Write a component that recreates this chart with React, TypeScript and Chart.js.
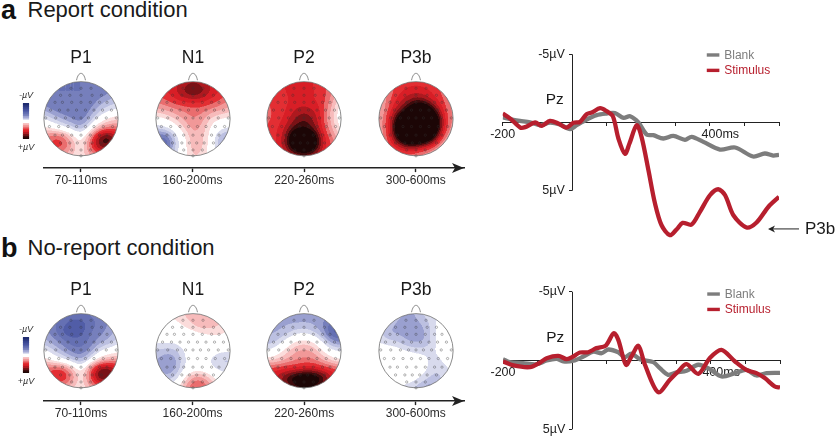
import React, { useEffect, useRef } from "react";
import { Chart, registerables } from "chart.js";
Chart.register(...registerables);

const FONT = "'Liberation Sans', Helvetica, Arial, sans-serif";
const GREY = "#7d7d7d";
const RED = "#b71f2e";
const INK = "#222222";

// ---------- ERP traces (ms, microvolt; positive is drawn downward) ----------
const reportBlankT = [-200,-169,-150,-121,-92,-63,-34,-5,14,43,72,101,125,150,169,193,217,236,265,294,328,347,381,429,473,525,559,583,600];
const reportBlankV = [-0.37,-0.2,-0.12,-0.02,0.2,0,0.15,0.49,0.2,-0.22,-0.54,-0.66,-0.7,-0.34,-0.46,0,0.88,0.93,1.17,0.98,1.27,1.05,1.42,1.98,1.83,2.49,2.27,2.42,2.37];
const reportStimT = [-200,-178,-149,-135,-106,-87,-63,-39,-16,5,24,43,58,82,101,119,135,154,167,188,202,222,241,260,284,304,321,347,371,400,424,444,468,506,535,569,600];
const reportStimV = [-0.66,-0.29,0.37,0.34,0,0.24,-0.12,0.07,0.37,0.02,-0.05,-0.61,-0.73,-1.05,-0.83,-0.46,1.17,2.3,1.54,0.2,1.05,3.5,5.94,7.53,8.26,7.82,7.36,7.48,6.55,5.33,4.89,5.33,6.8,7.7,7.33,6.19,5.45];
const noReportBlankT = [-200,-181,-142,-103,-74,-45,-26,3,32,61,85,104,133,152,171,195,234,253,277,301,330,364,397,431,470,503,532,561,600];
const noReportBlankV = [-0.1,0.12,0.19,0.27,0,-0.12,0.07,0.02,-0.29,-0.65,-0.53,-0.8,-0.6,-0.24,-0.5,-0.1,0.12,0.56,1.04,0.87,0.75,0.31,0.63,1.16,0.92,0.68,1.09,0.92,0.9];
const noReportStimT = [-200,-170,-122,-93,-74,-40,-16,3,22,46,70,97,120,133,155,171,191,210,248,282,306,330,364,397,431,470,503,532,556,585,600];
const noReportStimV = [0.07,0.36,0.48,0.15,-0.17,-0.34,-0.1,-0.29,-0.58,-0.6,-0.9,-1.09,-1.99,-1.5,0.31,-0.29,-1.07,0.31,2.3,1.4,0.8,0.27,0.97,-0.17,-0.77,0.07,0.68,0.92,1.28,1.89,1.96];

const xTickValues = [-200,-100,0,100,200,300,400,500,600];
const xTickLabels = ["-200","","","","","","      400ms","",""];
const yTickValues = [-5,5];
const yTickLabels = ["-5\u00b5V  ","5\u00b5V  "];
const seriesNames = ["Blank","Stimulus"];

// ---------- Topographies: scalp values on a 9x9 grid, front row first ----------
const p1Report = [
[-.5,-.5,-.5,-.5,-.5,-.5,-.5,-.45,-.42],
[-.5,-.5,-.5,-.5,-.5,-.5,-.5,-.45,-.4],
[-.5,-.5,-.5,-.5,-.5,-.5,-.38,-.28,-.22],
[-.32,-.45,-.5,-.5,-.5,-.42,-.22,-.15,-.1],
[-.08,-.2,-.32,-.42,-.5,-.28,-.04,.12,.2],
[.12,.05,-.05,-.15,-.3,-.02,.3,.45,.42],
[.42,.55,.52,.22,.0,.38,.95,1.05,.7],
[.38,.55,.58,.3,.06,.5,.9,.9,.6],
[.18,.25,.28,.18,.12,.24,.36,.38,.25]];
const n1Report = [
[.56,.6,.66,.72,.78,.72,.66,.58,.54],
[.54,.6,.68,.85,.98,.88,.68,.6,.5],
[.44,.5,.58,.64,.66,.64,.58,.5,.38],
[.28,.32,.38,.42,.45,.45,.38,.32,.26],
[.03,.08,.2,.32,.42,.34,.15,.08,.05],
[-.18,-.1,-.02,.2,.34,.28,.05,-.05,-.1],
[-.5,-.6,-.2,.04,.3,.24,.02,-.32,-.42],
[-.55,-.72,-.22,.02,.28,.24,0,-.32,-.42],
[-.22,-.35,-.1,.03,.22,.16,0,-.1,-.18]];
const p2Report = [
[.55,.58,.6,.62,.66,.6,.52,.42,.3],
[.52,.58,.6,.64,.66,.6,.56,.42,.18],
[.5,.54,.58,.62,.62,.6,.56,.36,.08],
[.46,.54,.58,.7,.75,.7,.56,.24,0],
[.46,.54,.62,.8,.92,.8,.56,.22,-.02],
[.5,.58,.7,.95,1,.88,.56,.3,.04],
[.54,.58,.78,1.4,1.5,1.25,.68,.42,.16],
[.54,.58,.78,1.3,1.5,1.25,.66,.52,.32],
[.48,.52,.58,.7,.78,.7,.58,.48,.36]];
const p3bReport = [
[.3,.42,.52,.56,.56,.56,.52,.42,.3],
[.25,.42,.56,.62,.65,.62,.56,.46,.3],
[.22,.46,.62,.76,.88,.8,.62,.5,.3],
[.22,.5,.75,1,1.4,1.4,.9,.56,.34],
[.28,.56,1.05,1.6,1.8,1.8,1.35,.62,.34],
[.28,.56,1.25,1.8,1.9,1.8,1.35,.62,.3],
[.28,.5,1.05,1.6,1.6,1.45,1,.45,.2],
[.3,.45,.62,.8,.8,.65,.5,.2,.05],
[.25,.36,.42,.42,.36,.3,.15,0,-.12]];
const p1NoReport = [
[-.38,-.42,-.48,-.52,-.48,-.48,-.42,-.38,-.3],
[-.42,-.48,-.56,-.66,-.68,-.56,-.48,-.4,-.3],
[-.38,-.44,-.64,-.7,-.66,-.5,-.44,-.36,-.25],
[-.26,-.36,-.45,-.55,-.55,-.48,-.36,-.28,-.15],
[-.05,-.18,-.32,-.46,-.5,-.38,-.1,-.02,.05],
[.18,.02,-.08,-.2,-.34,-.08,.18,.3,.34],
[.46,.58,.58,.3,0,.48,.95,.95,.7],
[.4,.6,.68,.42,.08,.5,.95,.88,.56],
[.14,.24,.3,.18,.1,.24,.4,.36,.24]];
const n1NoReport = [
[.04,.08,.18,.22,.24,.3,.26,.18,.05],
[0,.02,.04,.14,.24,.36,.26,.22,.12],
[0,0,0,.02,.05,.1,.15,.15,.06],
[-.06,-.06,-.06,0,0,0,0,0,0],
[-.22,-.25,-.25,-.1,0,0,0,-.06,-.06],
[-.28,-.42,-.38,-.12,0,0,-.14,-.26,-.24],
[-.28,-.42,-.34,-.1,0,0,-.06,-.14,-.14],
[-.12,-.24,-.2,.1,.4,.4,.16,0,-.02],
[0,-.06,0,.28,.54,.54,.36,.12,0]];
const p2NoReport = [
[-.32,-.32,-.34,-.34,-.34,-.34,-.36,-.42,-.42],
[-.32,-.32,-.32,-.32,-.32,-.32,-.38,-.55,-.58],
[-.32,-.32,-.27,-.16,-.12,-.2,-.34,-.68,-.7],
[-.27,-.22,-.05,.1,.16,.1,-.1,-.38,-.42],
[-.1,-.02,.15,.3,.34,.3,.1,-.05,-.1],
[.15,.2,.3,.38,.42,.42,.3,.15,.08],
[.58,.6,.62,.62,.68,.68,.62,.58,.5],
[.62,.72,.95,1.2,1.35,1.3,1.05,.7,.55],
[.55,.6,.72,.88,.98,.92,.75,.6,.55]];
const p3bNoReport = [
[-.17,-.2,-.26,-.32,-.3,-.13,-.13,-.1,-.1],
[-.17,-.24,-.32,-.34,-.34,-.27,-.11,0,0],
[-.17,-.32,-.34,-.34,-.37,-.32,-.09,0,0],
[-.11,-.17,-.2,-.32,-.34,-.32,-.11,0,0],
[0,0,-.02,-.08,-.13,-.14,-.11,0,0],
[0,0,0,0,0,-.06,-.17,-.06,0],
[0,0,0,0,0,-.06,-.2,-.17,-.05],
[0,0,0,0,-.06,-.17,-.26,-.17,-.09],
[0,-.02,-.11,-.17,-.24,-.38,-.38,-.2,-.1]];

const componentNames = ["P1","N1","P2","P3b"];
const timeWindows = ["70-110ms","160-200ms","220-260ms","300-600ms"];

// Electrode rows on the scalp, unit circle
const electrodeRows: [number, number[]][] = [
  [.78,[-.27,0,.27]],
  [.6,[-.55,-.3,0,.3,.55]],
  [.42,[-.7,-.5,-.25,0,.25,.5,.7]],
  [.22,[-.82,-.58,-.35,-.12,.12,.35,.58,.82]],
  [.02,[-.95,-.68,-.42,-.2,0,.2,.42,.68,.95]],
  [-.2,[-.85,-.6,-.35,-.12,.12,.35,.6,.85]],
  [-.42,[-.7,-.5,-.25,0,.25,.5,.7]],
  [-.62,[-.55,-.3,-.1,.1,.3,.55]],
  [-.8,[-.25,0,.25]],
  [-.95,[0]],
];
const electrodes = electrodeRows.flatMap(([y, xs]) => xs.map((x) => ({ x, y })));

// Contour palette, one colour per 0.1 of the colour scale
const bluePalette = ["#ffffff","#d8daed","#bcc0e1","#9aa0d0","#767fbc","#6570b3","#515da7","#434f9c","#35428e","#2a367e","#1f2c70"];
const redPalette = ["#ffffff","#fbdcdb","#f7bbbb","#f19898","#ea6d6e","#e32e33","#d81e26","#ae191f","#791216","#3d0b0c","#1c0606"];

// ---------- helpers ----------
const hex = (c: string) => [1, 3, 5].map((i) => parseInt(c.slice(i, i + 2), 16));
const levelColour = (v: number) => {
  const idx = Math.min(10, Math.floor(Math.abs(v) / 0.1));
  return hex((v < 0 ? bluePalette : redPalette)[idx]);
};
const bs = (a: number, b: number, c: number, d: number, t: number) => {
  const t2 = t * t, t3 = t2 * t;
  return ((1 - t) ** 3 * a + (3 * t3 - 6 * t2 + 4) * b + (-3 * t3 + 3 * t2 + 3 * t + 1) * c + t3 * d) / 6;
};
const sampleGrid = (g: number[][], x: number, y: number) => {
  const u = Math.max(0, Math.min(7.999, (x + 1) * 4));
  const w = Math.max(0, Math.min(7.999, (1 - y) * 4));
  const i = Math.floor(u), j = Math.floor(w);
  const row = (r: number) => {
    const R = g[Math.max(0, Math.min(8, r))];
    const at = (k: number) => R[Math.max(0, Math.min(8, k))];
    return bs(at(i - 1), at(i), at(i + 1), at(i + 2), u - i);
  };
  return bs(row(j - 1), row(j), row(j + 1), row(j + 2), w - j);
};

const topoPlugin = (grid: number[][]) => ({
  id: "topo",
  beforeDatasetsDraw(chart: any) {
    const { ctx, scales: { x: sx, y: sy } } = chart;
    const cx = sx.getPixelForValue(0), cy = sy.getPixelForValue(0);
    const r = sx.getPixelForValue(1) - cx;
    const ss = 2;
    const size = Math.ceil(r * 2 * ss);
    const off = document.createElement("canvas");
    off.width = off.height = size;
    const octx = off.getContext("2d")!;
    const img = octx.createImageData(size, size);
    for (let py = 0; py < size; py++) {
      for (let px = 0; px < size; px++) {
        const ux = ((px + 0.5) / size) * 2 - 1;
        const uy = 1 - ((py + 0.5) / size) * 2;
        const c = levelColour(sampleGrid(grid, ux, uy));
        const o = (py * size + px) * 4;
        img.data[o] = c[0]; img.data[o + 1] = c[1]; img.data[o + 2] = c[2]; img.data[o + 3] = 255;
      }
    }
    octx.putImageData(img, 0, 0);
    ctx.save();
    ctx.beginPath();
    ctx.arc(cx, cy, r, 0, Math.PI * 2);
    ctx.save();
    ctx.clip();
    ctx.imageSmoothingEnabled = true;
    ctx.drawImage(off, cx - r, cy - r, r * 2, r * 2);
    ctx.restore();
    ctx.strokeStyle = "#6e6e6e";
    ctx.lineWidth = 0.8;
    ctx.stroke();
    const nx = 0.12 * r, nt = sy.getPixelForValue(1.22), nb = sy.getPixelForValue(0.985);
    ctx.beginPath();
    ctx.moveTo(cx - nx, nb);
    ctx.bezierCurveTo(cx - nx * 0.6, nt, cx + nx * 0.6, nt, cx + nx, nb);
    ctx.stroke();
    ctx.restore();
  },
});

const topoConfig = (grid: number[][], name: string) => ({
  type: "scatter",
  data: {
    datasets: [{
      label: name + " electrodes",
      data: electrodes,
      pointRadius: 1.15,
      pointBorderWidth: 0.55,
      pointBorderColor: "rgba(50,50,50,0.65)",
      pointBackgroundColor: "rgba(0,0,0,0)",
      clip: false,
    }],
  },
  options: {
    responsive: false,
    animation: false,
    events: [],
    scales: {
      x: { display: false, min: -1.17, max: 1.17 },
      y: { display: false, min: -1.17, max: 1.17 },
    },
    plugins: {
      legend: { display: false },
      tooltip: { enabled: false },
      title: {
        display: true,
        text: name,
        color: "#1a1a1a",
        font: { family: FONT, size: 17.5, weight: "normal", lineHeight: 20 / 17.5 },
        padding: { top: 0, bottom: 5 },
      },
    },
  },
  plugins: [topoPlugin(grid)],
});

const arrowPlugin = {
  id: "arrowHead",
  afterDraw(chart: any) {
    const { ctx, chartArea: a, scales: { y } } = chart;
    const yy = y.getPixelForValue(0);
    const tip = a.right;
    ctx.save();
    ctx.fillStyle = INK;
    ctx.beginPath();
    ctx.moveTo(tip, yy);
    ctx.lineTo(tip - 12, yy - 5);
    ctx.lineTo(tip - 9, yy);
    ctx.lineTo(tip - 12, yy + 5);
    ctx.closePath();
    ctx.fill();
    ctx.restore();
  },
};

const flatX = (s: any) => { s.height = 0; s.paddingLeft = 0; s.paddingRight = 0; s.paddingTop = 0; s.paddingBottom = 0; };
const flatY = (s: any) => { s.width = 0; s.paddingLeft = 0; s.paddingRight = 0; s.paddingTop = 0; s.paddingBottom = 0; };

const timelineConfig = () => ({
  type: "scatter",
  data: { datasets: [] as any[] },
  options: {
    responsive: false,
    animation: false,
    events: [],
    layout: { padding: { left: 43.3, right: 16, top: 0, bottom: 14 } },
    scales: {
      x: {
        type: "linear",
        min: -0.3376,
        max: 3.432,
        position: { y: 0 },
        afterFit: flatX,
        afterBuildTicks: (s: any) => { s.ticks = timeWindows.map((_, i) => ({ value: i })); },
        border: { display: true, color: INK, width: 1.6 },
        grid: { drawOnChartArea: false, drawTicks: true, tickLength: 3.5, tickColor: INK, tickWidth: 1.4 },
        ticks: {
          autoSkip: false, maxRotation: 0, padding: 2, color: "#2b2b2b",
          font: { family: FONT, size: 12 },
          callback: (v: number) => timeWindows[v],
        },
      },
      y: { display: false, min: -1, max: 1 },
    },
    plugins: { legend: { display: false }, tooltip: { enabled: false } },
  },
  plugins: [arrowPlugin],
});

const levelEdges = [-1,-.9,-.8,-.7,-.6,-.5,-.4,-.3,-.2,-.1,.1,.2,.3,.4,.5,.6,.7,.8,.9,1];
const colourbarConfig = () => ({
  type: "bar",
  data: {
    labels: ["\u00b5V"],
    datasets: levelEdges.slice(0, -1).map((lo, i) => {
      const hi = levelEdges[i + 1];
      const mid = (lo + hi) / 2;
      const idx = Math.min(10, Math.floor(Math.abs(mid) * 10) + 1);
      return {
        label: mid.toFixed(2),
        data: [[lo, hi]],
        backgroundColor: Math.abs(mid) < 0.1 ? "#ffffff" : (mid < 0 ? bluePalette : redPalette)[idx],
        borderWidth: 0,
        barThickness: 5.5,
      };
    }),
  },
  options: {
    responsive: false,
    animation: false,
    events: [],
    layout: { padding: { left: 4 } },
    scales: {
      x: { display: false, stacked: true },
      y: { display: false, min: -1, max: 1, reverse: true },
    },
    plugins: {
      legend: { display: false },
      tooltip: { enabled: false },
      title: {
        display: true, text: "-\u00b5V", color: "#333",
        font: { family: FONT, size: 9, style: "italic", weight: "normal", lineHeight: 10 / 9 },
        padding: { top: 0, bottom: 3 },
      },
      subtitle: {
        display: true, text: "+\u00b5V", color: "#333", position: "bottom",
        font: { family: FONT, size: 9, style: "italic", weight: "normal", lineHeight: 10 / 9 },
        padding: { top: 3, bottom: 0 },
      },
    },
  },
});

const erpPlugin = (pzY: number, legendY: number, showArrow: boolean) => ({
  id: "erpDecor",
  beforeDatasetsDraw(chart: any) {
    const { ctx, scales: { x, y } } = chart;
    const x0 = Math.round(x.getPixelForValue(0)) + 0.5;
    ctx.save();
    ctx.strokeStyle = INK;
    ctx.lineWidth = 1;
    ctx.beginPath();
    ctx.moveTo(x0, y.getPixelForValue(-5));
    ctx.lineTo(x0, y.getPixelForValue(5));
    ctx.stroke();
    ctx.restore();
  },
  afterDraw(chart: any) {
    const { ctx, data } = chart;
    const { x, y } = chart.scales;
    ctx.save();
    ctx.textBaseline = "middle";
    ctx.fillStyle = "#1a1a1a";
    ctx.font = `15.4px ${FONT}`;
    ctx.textAlign = "left";
    ctx.fillText("Pz", x.getPixelForValue(0) - 26, y.getPixelForValue(pzY));
    data.datasets.forEach((d: any, i: number) => {
      const yy = y.getPixelForValue(legendY) + i * 15.4;
      const xl = x.getPixelForValue(0) + 135;
      ctx.strokeStyle = d.borderColor;
      ctx.lineWidth = 3.4;
      ctx.beginPath();
      ctx.moveTo(xl, yy);
      ctx.lineTo(xl + 12.6, yy);
      ctx.stroke();
      ctx.fillStyle = d.borderColor;
      ctx.font = `12px ${FONT}`;
      ctx.fillText(d.label, xl + 17.5, yy + 0.5);
    });
    if (showArrow) {
      const ya = y.getPixelForValue(7.8);
      const tip = x.getPixelForValue(600) - 11;
      ctx.strokeStyle = INK;
      ctx.fillStyle = INK;
      ctx.lineWidth = 1;
      ctx.beginPath();
      ctx.moveTo(tip + 3, ya);
      ctx.lineTo(tip + 31, ya);
      ctx.stroke();
      ctx.beginPath();
      ctx.moveTo(tip, ya);
      ctx.lineTo(tip + 7, ya - 3.5);
      ctx.lineTo(tip + 5, ya);
      ctx.lineTo(tip + 7, ya + 3.5);
      ctx.closePath();
      ctx.fill();
      ctx.fillStyle = "#1a1a1a";
      ctx.font = `17px ${FONT}`;
      ctx.fillText("P3b", tip + 37, ya);
    }
    ctx.restore();
  },
});

const zip = (t: number[], v: number[]) => t.map((x, i) => ({ x, y: v[i] }));

const erpConfig = (
  blank: { x: number; y: number }[],
  stim: { x: number; y: number }[],
  yMax: number,
  padding: any,
  pzY: number,
  legendY: number,
  showArrow: boolean,
) => ({
  type: "line",
  data: {
    datasets: [
      { label: seriesNames[0], data: blank, borderColor: GREY, backgroundColor: GREY, borderWidth: 4.3, pointRadius: 0, tension: 0.3, order: 2 },
      { label: seriesNames[1], data: stim, borderColor: RED, backgroundColor: RED, borderWidth: 4.3, pointRadius: 0, tension: 0.3, order: 1 },
    ],
  },
  options: {
    responsive: false,
    animation: false,
    events: [],
    layout: { padding },
    scales: {
      x: {
        type: "linear",
        min: -200,
        max: 600,
        position: { y: 0 },
        afterFit: flatX,
        afterBuildTicks: (s: any) => { s.ticks = xTickValues.map((value) => ({ value })); },
        border: { display: true, color: INK, width: 1 },
        grid: { drawOnChartArea: false, drawTicks: true, tickLength: 3, tickColor: INK },
        ticks: {
          autoSkip: false, maxRotation: 0, padding: 1.5, color: "#222",
          font: { family: FONT, size: 12.5 },
          callback: (v: number) => xTickLabels[xTickValues.indexOf(v)],
        },
      },
      y: {
        type: "linear",
        reverse: true,
        min: -5,
        max: yMax,
        position: { x: 0 },
        afterFit: flatY,
        afterBuildTicks: (s: any) => { s.ticks = yTickValues.map((value) => ({ value })); },
        border: { display: false },
        grid: { drawOnChartArea: false, drawTicks: true, tickLength: 3, tickColor: INK },
        ticks: {
          autoSkip: false, padding: 1, color: "#222",
          font: { family: FONT, size: 12.5 },
          callback: (v: number) => yTickLabels[yTickValues.indexOf(v)],
        },
      },
    },
    plugins: { legend: { display: false }, tooltip: { enabled: false } },
  },
  plugins: [erpPlugin(pzY, legendY, showArrow)],
});

function ChartBox({ left, top, width, height, make }: any) {
  const ref = useRef<HTMLCanvasElement>(null);
  useEffect(() => {
    const chart = new Chart(ref.current as any, make());
    return () => chart.destroy();
  }, []);
  return (
    <canvas
      ref={ref}
      width={width}
      height={height}
      style={{ position: "absolute", left, top, width, height, display: "block" }}
    />
  );
}

function Heading({ top, letter, text }: { top: number; letter: string; text: string }) {
  return (
    <>
      <span style={{ position: "absolute", left: 1, top, font: `bold 27px ${FONT}`, lineHeight: "30px", color: "#111" }}>{letter}</span>
      <span style={{ position: "absolute", left: 27.5, top, font: `22px ${FONT}`, lineHeight: "30px", color: "#1a1a1a", whiteSpace: "nowrap" }}>{text}</span>
    </>
  );
}

const topoLefts = [33, 145, 256, 368];
const reportGrids = [p1Report, n1Report, p2Report, p3bReport];
const noReportGrids = [p1NoReport, n1NoReport, p2NoReport, p3bNoReport];

export default function App() {
  return (
    <div style={{ position: "fixed", left: 0, top: 0, width: 837, height: 438, overflow: "hidden", background: "#fff" }}>
      <Heading top={-5} letter="a" text="Report condition" />
      <Heading top={233} letter="b" text="No-report condition" />

      <ChartBox left={4} top={90} width={40} height={62} make={colourbarConfig} />
      <ChartBox left={4} top={324} width={40} height={62} make={colourbarConfig} />

      {reportGrids.map((g, i) => (
        <ChartBox key={"a" + i} left={topoLefts[i]} top={48} width={96} height={121} make={() => topoConfig(g, componentNames[i])} />
      ))}
      {noReportGrids.map((g, i) => (
        <ChartBox key={"b" + i} left={topoLefts[i]} top={280} width={96} height={121} make={() => topoConfig(g, componentNames[i])} />
      ))}

      <ChartBox left={0} top={160} width={480} height={30} make={timelineConfig} />
      <ChartBox left={0} top={393} width={480} height={30} make={timelineConfig} />

      <ChartBox
        left={490} top={30} width={347} height={216}
        make={() => erpConfig(zip(reportBlankT, reportBlankV), zip(reportStimT, reportStimV), 9,
          { left: 12.7, right: 58, top: 24.3, bottom: 0.7 }, -1.65, -4.95, true)}
      />
      <ChartBox
        left={490} top={275} width={347} height={163}
        make={() => erpConfig(zip(noReportBlankT, noReportBlankV), zip(noReportStimT, noReportStimV), 5,
          { left: 13, right: 57, top: 16.7, bottom: 8.7 }, -1.65, -4.83, false)}
      />
    </div>
  );
}
